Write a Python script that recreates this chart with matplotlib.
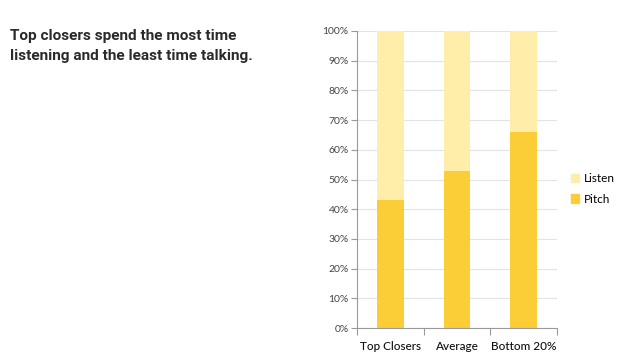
import matplotlib
matplotlib.use("Agg")
import matplotlib.pyplot as plt
from matplotlib.patches import Patch
import numpy as np

categories = ["Top Closers", "Average", "Bottom 20%"]
pitch = [43, 53, 66]
listen = [57, 47, 34]
yticks = [0, 10, 20, 30, 40, 50, 60, 70, 80, 90, 100]

c_pitch = "#FBCD36"
c_listen = "#FEEEAA"

fig = plt.figure(figsize=(6.26, 3.62), dpi=100)
ax = fig.add_axes([357/626, 1-328/362, 200/626, 297/362])

x = np.arange(len(categories))
ax.bar(x, pitch, width=0.4, color=c_pitch, zorder=2)
ax.bar(x, listen, width=0.4, bottom=pitch, color=c_listen, zorder=2)

ax.set_xlim(-0.5, len(categories) - 0.5)
ax.set_ylim(0, 100)
ax.set_yticks(yticks)
ax.set_yticklabels([f"{v}%" for v in yticks], fontsize=7.5, color="#444444", family="Lato")
ax.yaxis.grid(True, color="#E3E3E3", linewidth=0.8, zorder=0)
ax.tick_params(axis="y", length=4, width=0.8, color="#999999", pad=2)

ax.set_xticks(x)
ax.set_xticklabels(categories, fontsize=8.5, color="#111111", family="Lato", fontweight="medium")
ax.set_xticks(np.arange(-0.5, len(categories), 1.0), minor=True)
ax.tick_params(axis="x", which="major", length=0, pad=9)
ax.tick_params(axis="x", which="minor", length=5, width=0.8, color="#999999")

for s in ["top", "right"]:
    ax.spines[s].set_visible(False)
for s in ["left", "bottom"]:
    ax.spines[s].set_color("#999999")
    ax.spines[s].set_linewidth(0.8)

handles = [Patch(color=c_listen, label="Listen"), Patch(color=c_pitch, label="Pitch")]
fig.legend(handles=handles, loc="center left", bbox_to_anchor=(560/626, 1-189/362),
           frameon=False, handlelength=0.7, handleheight=0.7,
           handletextpad=0.4, labelspacing=0.8, prop={"family": "Lato", "size": 8.5})

fig.text(10/626, 1-46/362, "Top closers spend the most time\nlistening and the least time talking.",
         fontsize=11.1, fontweight="bold", color="#2a2a2a", va="center", ha="left",
         family=["Roboto", "DejaVu Sans"], linespacing=1.6,
         transform=fig.transFigure)

fig.savefig("out.png", dpi=100)
